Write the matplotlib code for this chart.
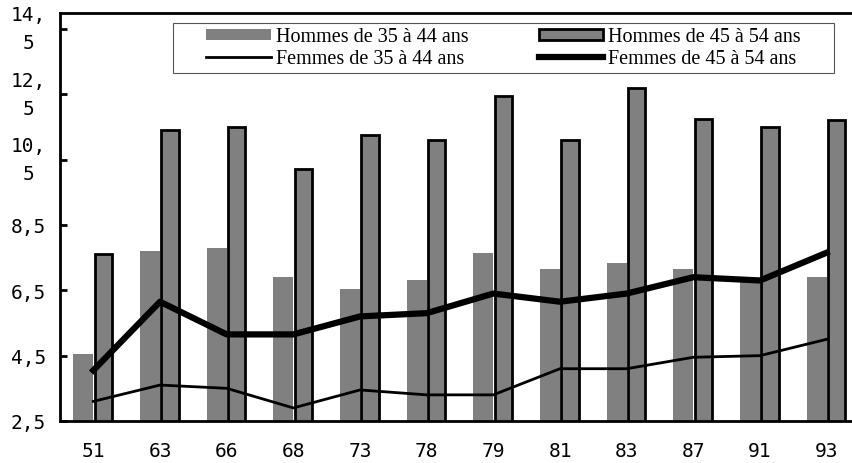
import matplotlib.pyplot as plt
import numpy as np
from matplotlib.patches import Rectangle

# Survey years and rates by sex and age band
years = ['51', '63', '66', '68', '73', '78', '79', '81', '83', '87', '91', '93']
hommes_35_44 = [4.55, 7.7, 7.8, 6.9, 6.55, 6.8, 7.65, 7.15, 7.35, 7.15, 6.8, 6.9]
hommes_45_54 = [7.6, 11.4, 11.5, 10.2, 11.25, 11.1, 12.45, 11.1, 12.7, 11.75, 11.5, 11.7]
femmes_35_44 = [3.1, 3.6, 3.5, 2.9, 3.45, 3.3, 3.3, 4.1, 4.1, 4.45, 4.5, 5.0]
femmes_45_54 = [4.05, 6.15, 5.15, 5.15, 5.7, 5.8, 6.4, 6.15, 6.4, 6.9, 6.8, 7.65]

series_labels = ['Hommes de 35 à 44 ans', 'Femmes de 35 à 44 ans',
                 'Hommes de 45 à 54 ans', 'Femmes de 45 à 54 ans']
yticks = [2.5, 4.5, 6.5, 8.5, 10.5, 12.5, 14.5]
ytick_labels = ['2,5', '4,5', '6,5', '8,5', '10,\n5', '12,\n5', '14,\n5']

W, H = 852, 464
fig = plt.figure(figsize=(W / 100, H / 100), dpi=100)
ax = fig.add_axes([60 / W, 1 - 422 / H, 800 / W, 408.5 / H])

x = np.arange(len(years))
gray = '#808080'
b1 = ax.bar(x, hommes_35_44, width=-0.3, align='edge', color=gray, zorder=2)
b2 = ax.bar(x + 0.02, hommes_45_54, width=0.26, align='edge', color=gray,
            edgecolor='black', linewidth=2, zorder=2)
l1, = ax.plot(x, femmes_35_44, color='black', lw=2, zorder=3)
l2, = ax.plot(x, femmes_45_54, color='black', lw=4.5, zorder=3)

ax.set_xlim(-0.5, 11.5)
ax.set_ylim(2.5, 15)

ax.set_yticks(yticks, ytick_labels, fontfamily='DejaVu Sans Mono', fontsize=14)
ax.tick_params(axis='y', direction='in', length=5, width=2, pad=22.7)
for lab in ax.get_yticklabels():
    lab.set_ha('center')
    if '\n' in lab.get_text():
        lab.set_linespacing(1.6)
        lab.set_va('center')

ax.set_xticks(x, years, fontfamily='DejaVu Sans Mono', fontsize=14)
ax.tick_params(axis='x', length=0, pad=14.5)

ax.spines['right'].set_visible(False)
for side in ['left', 'top', 'bottom']:
    ax.spines[side].set_linewidth(2)

# legend frame drawn separately so the side padding can be wider than the top/bottom
fig.patches.append(Rectangle((173 / W, 1 - 73.5 / H), 661 / W, 49.5 / H,
                             transform=fig.transFigure, facecolor='white',
                             edgecolor='#555555', linewidth=0.8, zorder=4))
fig.legend([b1, l1, b2, l2], series_labels, ncol=2, loc='center',
           bbox_to_anchor=(503.5 / W, 1 - 48.8 / H), frameon=False,
           prop={'family': 'Liberation Serif', 'size': 14.5},
           handlelength=3.2, handleheight=0.45, handletextpad=0.25,
           columnspacing=3.5, labelspacing=0.15, borderpad=0)

fig.savefig('out.png', dpi=100)
